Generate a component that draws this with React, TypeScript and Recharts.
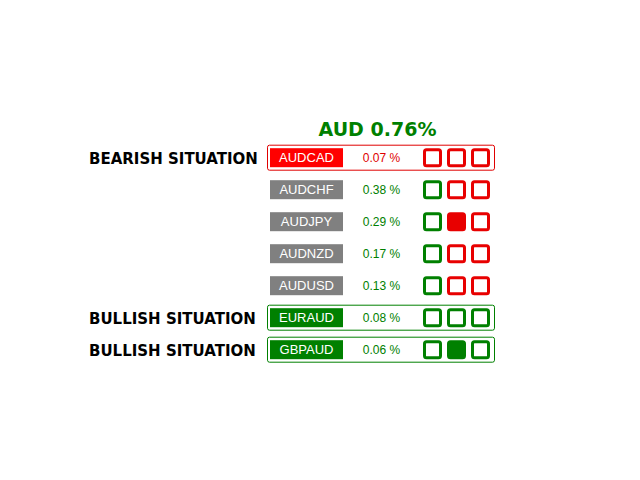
import React from 'react';
import { BarChart, Bar, XAxis, YAxis } from 'recharts';

const baseCurrency = 'AUD';
const baseStrength = 0.76;
const pairs = ['AUDCAD', 'AUDCHF', 'AUDJPY', 'AUDNZD', 'AUDUSD', 'EURAUD', 'GBPAUD'];
const changes = [0.07, 0.38, 0.29, 0.17, 0.13, 0.08, 0.06];
const situations = ['BEARISH', '', '', '', '', 'BULLISH', 'BULLISH'];
const signal1 = ['down', 'up', 'up', 'up', 'up', 'up', 'up'];
const signal2 = ['down', 'down', 'down', 'down', 'down', 'up', 'up'];
const signal3 = ['down', 'down', 'down', 'down', 'down', 'up', 'up'];
const filled1 = [false, false, false, false, false, false, false];
const filled2 = [false, false, true, false, false, false, true];
const filled3 = [false, false, false, false, false, false, false];

const data = pairs.map((pair, i) => ({
  pair,
  pct: changes[i],
  situation: situations[i],
  signals: [signal1[i], signal2[i], signal3[i]],
  filled: [filled1[i], filled2[i], filled3[i]],
}));

const RED = '#ff0000';
const SQ_RED = '#e80000';
const GREEN = '#008000';
const GRAY = '#808080';

const RowShape = (props: any) => {
  const { y, height, payload } = props;
  const cy = y + height / 2;
  const sit = payload.situation;
  const frameColor = sit === 'BEARISH' ? '#e00000' : sit === 'BULLISH' ? GREEN : null;
  const boxColor = sit === 'BEARISH' ? RED : sit === 'BULLISH' ? GREEN : GRAY;
  const pctColor = sit === 'BEARISH' ? '#e00000' : GREEN;
  const sqX = [424.5, 448.5, 472.5];
  return (
    <g>
      {sit ? (
        <text x={89} y={cy + 6} fontFamily="DejaVu Sans" fontWeight="bold" fontSize={15} fill="#000">
          {sit + ' SITUATION'}
        </text>
      ) : null}
      {frameColor ? (
        <rect x={267.5} y={cy - 12.5} width={227} height={25} rx={2} fill="none" stroke={frameColor} strokeWidth={1} />
      ) : null}
      <rect x={270} y={cy - 9.5} width={73} height={19} fill={boxColor} />
      <text x={306.5} y={cy + 4.5} textAnchor="middle" fontFamily="Liberation Sans" fontSize={13} fill="#fff">
        {payload.pair}
      </text>
      <text x={381.5} y={cy + 4.5} textAnchor="middle" fontFamily="Liberation Sans" fontSize={12} fill={pctColor}>
        {payload.pct.toFixed(2) + ' %'}
      </text>
      {payload.signals.map((s: string, k: number) => {
        const c = s === 'up' ? GREEN : SQ_RED;
        return (
          <rect
            key={k}
            x={sqX[k]}
            y={cy - 8}
            width={16}
            height={16}
            rx={2}
            fill={payload.filled[k] ? c : '#fff'}
            stroke={c}
            strokeWidth={3}
          />
        );
      })}
    </g>
  );
};

export default function App() {
  return (
    <div style={{ position: 'absolute', left: 0, top: 0, width: 640, height: 480, background: '#fff' }}>
      <div
        style={{
          position: 'absolute',
          left: 277.5,
          width: 200,
          top: 118,
          textAlign: 'center',
          fontFamily: 'DejaVu Sans',
          fontWeight: 'bold',
          fontSize: 19,
          lineHeight: '22px',
          color: GREEN,
        }}
      >
        {baseCurrency + ' ' + baseStrength.toFixed(2) + '%'}
      </div>
      <BarChart
        width={640}
        height={480}
        data={data}
        layout="vertical"
        margin={{ top: 141.5, bottom: 114.5, left: 0, right: 0 }}
      >
        <XAxis type="number" domain={[0, 1]} hide />
        <YAxis type="category" dataKey="pair" hide />
        <Bar dataKey="pct" shape={RowShape} isAnimationActive={false} />
      </BarChart>
    </div>
  );
}
